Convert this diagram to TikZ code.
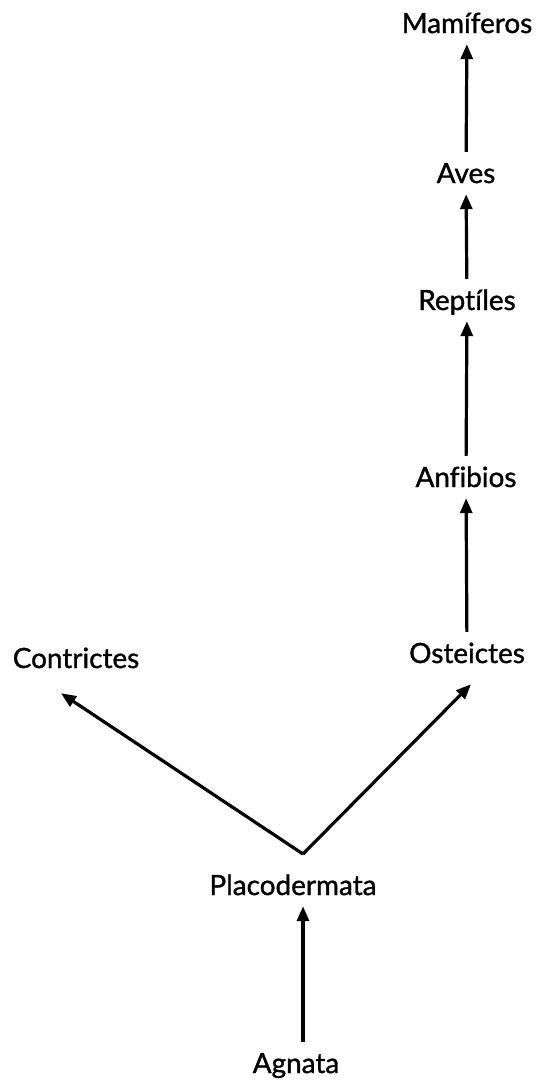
\documentclass[tikz,border=0pt]{standalone}
\usepackage{fontspec}
\setmainfont{Lato}[Ligatures={NoCommon}, BoldFont={Lato}, BoldFeatures={FakeBold=1.2}]
\usepackage{tikz}
\usetikzlibrary{arrows.meta,positioning}

\begin{document}
\begin{tikzpicture}[
  x=1bp, y=-1bp,
  taxon/.style={inner sep=0pt, anchor=base, text height=21bp, text depth=6bp,
    font=\fontsize{28}{30}\selectfont\bfseries},
  line/.style={-{Triangle[length=15bp, width=12bp]}, line width=3.2bp,
    shorten <=10bp, shorten >=5bp}
]
\path[use as bounding box, fill=white] (0,0) rectangle (548,1082);

\node[taxon] (mamiferos) at (467,33) {Mamíferos};
\node[taxon] (aves) at (466,183) {Aves};
\node[taxon] (reptiles) at (467,310) {Reptíles};
\node[taxon] (anfibios) at (466,487) {Anfibios};
\node[taxon] (osteictes) at (467,663) {Osteictes};
\node[taxon] (contrictes) at (76,668) {Contrictes};
\node[taxon] (placodermata) at (293,895) {Placodermata};
\node[taxon] (agnata) at (296,1073) {Agnata};
\coordinate (fork) at (303,854);

\draw[line] (aves) -- (mamiferos);
\draw[line] (reptiles) -- (aves);
\draw[line] (anfibios) -- (reptiles);
\draw[line] (osteictes) -- (anfibios);
\draw[line] (agnata.north -| fork) -- (placodermata.south -| fork);
\draw[line, shorten <=0pt, shorten >=0pt] (fork) -- ([xshift=-15bp, yshift=-19bp]contrictes.south);
\draw[line, shorten <=0pt, shorten >=0pt] (fork) -- ([xshift=4bp, yshift=-15bp]osteictes.south);
\end{tikzpicture}
\end{document}
